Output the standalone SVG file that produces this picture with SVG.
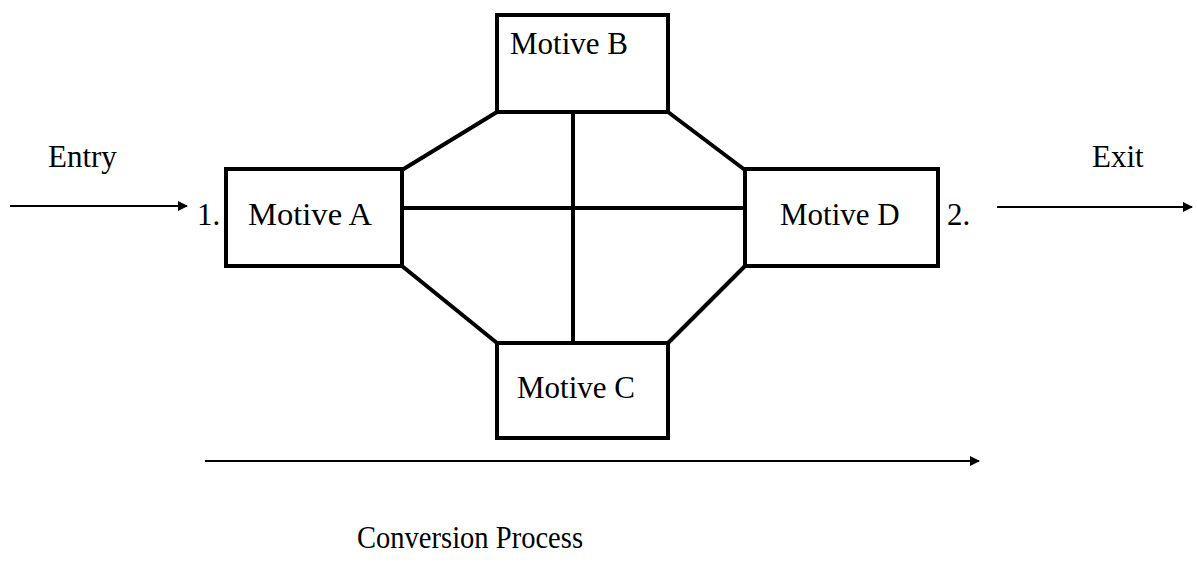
<svg xmlns="http://www.w3.org/2000/svg" width="1197" height="573" viewBox="0 0 1197 573">
<style>
.box{fill:#fff;stroke:#000;stroke-width:4}
.ln{stroke:#000;stroke-width:4;fill:none}
.ar{stroke:#000;stroke-width:2;fill:none;marker-end:url(#ah)}
text{font-family:"Liberation Serif","Times New Roman",serif;font-size:31px;fill:#000}
</style>
<defs>
<marker id="ah" markerWidth="10" markerHeight="10" refX="9" refY="5" orient="auto" markerUnits="userSpaceOnUse">
<path d="M0,0 L10,5 L0,10 Z" fill="#000"/>
</marker>
</defs>
<rect width="1197" height="573" fill="#fff"/>
<g id="connectors">
<line class="ln" x1="402" y1="170" x2="497" y2="112"/>
<line class="ln" x1="668" y1="112" x2="745" y2="170"/>
<line class="ln" x1="402" y1="266" x2="497" y2="343"/>
<line class="ln" x1="668" y1="343" x2="745" y2="266"/>
<line class="ln" x1="573" y1="112" x2="573" y2="343"/>
<line class="ln" x1="402" y1="208" x2="745" y2="208"/>
<line class="ar" x1="10" y1="206" x2="187" y2="206"/>
<line class="ar" x1="997" y1="207" x2="1192" y2="207"/>
<line class="ar" x1="205" y1="461" x2="979" y2="461"/>
</g>
<g id="motiveA"><rect class="box" x="226" y="169" width="176" height="97"/><text x="248" y="225" textLength="124" lengthAdjust="spacingAndGlyphs">Motive A</text></g>
<g id="motiveB"><rect class="box" x="497" y="15" width="171" height="97"/><text x="510" y="54">Motive B</text></g>
<g id="motiveC"><rect class="box" x="497" y="343" width="171" height="95"/><text x="517" y="398">Motive C</text></g>
<g id="motiveD"><rect class="box" x="745" y="169" width="193" height="97"/><text x="780" y="225">Motive D</text></g>
<g id="labels">
<text x="48" y="167">Entry</text>
<text x="1092" y="167">Exit</text>
<text x="197" y="225">1.</text>
<text x="947" y="225">2.</text>
<text x="357" y="548" textLength="226" lengthAdjust="spacingAndGlyphs">Conversion Process</text>
</g>
</svg>
